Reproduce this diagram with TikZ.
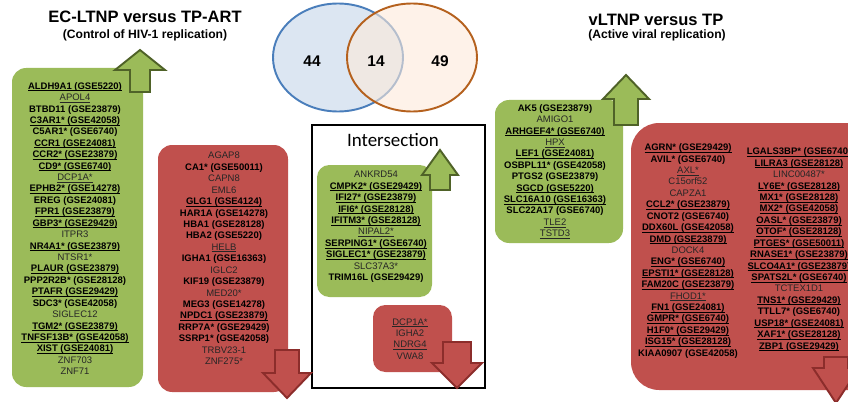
\documentclass[tikz,border=0pt]{standalone}
\usepackage{fontspec}
\setmainfont{Liberation Sans}
\newfontfamily\carlito{Carlito}

\definecolor{boxgreen}{HTML}{9BBB59}
\definecolor{boxred}{HTML}{C0504D}
\definecolor{arrowgreen}{HTML}{4F6228}
\definecolor{arrowred}{HTML}{8C2D2B}
\definecolor{vennblue}{HTML}{4A7EBB}
\definecolor{vennbluefill}{HTML}{DCE6F2}
\definecolor{vennorange}{HTML}{B5611E}
\definecolor{vennorangefill}{HTML}{FDEADA}
\definecolor{plaingray}{HTML}{262626}

% underline at a fixed depth
\newcommand\ulbox[1]{\setbox0\hbox{#1}\rlap{\rule[-1.1pt]{\wd0}{0.45pt}}\box0}
% gene entries: bold+underlined, bold, plain+underlined, plain
\newcommand\bul[1]{\textbf{\ulbox{#1}}}
\newcommand\bld[1]{\textbf{#1}}
\newcommand\pul[1]{\textcolor{plaingray}{\ulbox{#1}}}
\newcommand\pln[1]{\textcolor{plaingray}{#1}}

% block arrow: style, x, tip y, head base y, head half width, shaft half width, shaft end y
\newcommand\blkarrow[7]{%
  \draw[#1] (#2-#6,#7) -- (#2-#6,#4) -- (#2-#5,#4) -- (#2,#3) -- (#2+#5,#4)
    -- (#2+#6,#4) -- (#2+#6,#7) -- cycle;}

\tikzset{
  greenbox/.style={fill=boxgreen, rounded corners=8pt},
  redbox/.style={fill=boxred, rounded corners=8pt},
  genelist/.style={align=center, inner sep=0pt, font=\fontsize{5.4}{6.5}\selectfont},
  uparrow/.style={fill=boxgreen, draw=arrowgreen, line width=1.1pt},
  downarrow/.style={fill=boxred, draw=arrowred, line width=1.1pt},
  heading/.style={font=\bfseries\fontsize{9.4}{11}\selectfont},
  subheading/.style={font=\bfseries\fontsize{6.9}{8}\selectfont},
  vennnum/.style={font=\bfseries\fontsize{8.8}{10}\selectfont},
}

\begin{document}
\begin{tikzpicture}[x=0.02cm,y=-0.02cm]
  \useasboundingbox (0,0) rectangle (848,402);
  \clip (0,0) rectangle (848,402);

  % titles
  \node[heading] (ectitle) at (145,17) {EC-LTNP versus TP-ART};
  \node[subheading] (ecsub) at (145,35) {(Control of HIV-1 replication)};
  \node[heading] (vltitle) at (656,20) {vLTNP versus TP};
  \node[subheading] (vlsub) at (657,35) {(Active viral replication)};

  % venn diagram
  \filldraw[fill=vennbluefill, draw=vennblue, line width=1.1pt] (338,57.5) ellipse [x radius=65, y radius=54];
  \filldraw[fill=vennorangefill, fill opacity=0.6, draw=vennorange, line width=1.1pt] (412,57.5) ellipse [x radius=65, y radius=54];
  \node[vennnum] (nleft) at (312,61) {44};
  \node[vennnum] (nboth) at (376,61) {14};
  \node[vennnum] (nright) at (440,61) {49};

  % EC-LTNP versus TP-ART, up
  \fill[greenbox] (12,68) rectangle (143,387);
  \node[genelist] (ecup) at (75,228.5) {\bul{ALDH9A1 (GSE5220)}\\ \pul{APOL4}\\ \bld{BTBD11 (GSE23879)}\\
    \bul{C3AR1* (GSE42058)}\\ \bld{C5AR1* (GSE6740)}\\ \bul{CCR1 (GSE24081)}\\ \bul{CCR2* (GSE23879)}\\
    \bul{CD9* (GSE6740)}\\ \pul{DCP1A*}\\ \bul{EPHB2* (GSE14278)}\\ \bld{EREG (GSE24081)}\\
    \bul{FPR1 (GSE23879)}\\ \bul{GBP3* (GSE29429)}\\ \pln{ITPR3}\\ \bul{NR4A1* (GSE23879)}\\
    \pln{NTSR1*}\\ \bul{PLAUR (GSE23879)}\\ \bld{PPP2R2B* (GSE28128)}\\ \bul{PTAFR (GSE29429)}\\
    \bld{SDC3* (GSE42058)}\\ \pln{SIGLEC12}\\ \bul{TGM2* (GSE23879)}\\ \bul{TNFSF13B* (GSE42058)}\\
    \bul{XIST (GSE24081)}\\ \pln{ZNF703}\\ \pln{ZNF71}};

  % EC-LTNP versus TP-ART, down
  \fill[redbox] (158,145) rectangle (288,392);
  \node[genelist] (ecdown) at (224,258.5) {\pln{AGAP8}\\ \bld{CA1* (GSE50011)}\\ \pln{CAPN8}\\ \pln{EML6}\\
    \bul{GLG1 (GSE4124)}\\ \bld{HAR1A (GSE14278)}\\ \bld{HBA1 (GSE28128)}\\ \bld{HBA2 (GSE5220)}\\
    \pul{HELB}\\ \bld{IGHA1 (GSE16363)}\\ \pln{IGLC2}\\ \bld{KIF19 (GSE23879)}\\ \pln{MED20*}\\
    \bld{MEG3 (GSE14278)}\\ \bul{NPDC1 (GSE23879)}\\ \bld{RRP7A* (GSE29429)}\\ \bld{SSRP1* (GSE42058)}\\
    \pln{TRBV23-1}\\ \pln{ZNF275*}};

  % intersection
  \draw[line width=1.1pt] (312,125) rectangle (485,388);
  \node[font=\carlito\fontsize{10.8}{12}\selectfont] (inttitle) at (393,140) {Intersection};
  \fill[greenbox, rounded corners=7pt] (317,165) rectangle (432,297);
  \node[genelist] (intup) at (376,227) {\pln{ANKRD54}\\ \bul{CMPK2* (GSE29429)}\\ \bul{IFI27* (GSE23879)}\\
    \bul{IFI6* (GSE28128)}\\ \bul{IFITM3* (GSE28128)}\\ \pul{NIPAL2*}\\ \bul{SERPING1* (GSE6740)}\\
    \bul{SIGLEC1* (GSE23879)}\\ \pln{SLC37A3*}\\ \bld{TRIM16L (GSE29429)}};
  \fill[redbox, rounded corners=7pt] (373,305) rectangle (452,372);
  \node[genelist] (intdown) at (410,339) {\pul{DCP1A*}\\ \pln{IGHA2}\\ \pul{NDRG4}\\ \pln{VWA8}};

  % vLTNP versus TP, up
  \fill[greenbox] (495,100) rectangle (623,243);
  \node[genelist] (vlup) at (555,171.5) {\bld{AK5 (GSE23879)}\\ \pln{AMIGO1}\\ \bul{ARHGEF4* (GSE6740)}\\
    \pul{HPX}\\ \bul{LEF1 (GSE24081)}\\ \bld{OSBPL11* (GSE42058)}\\ \bld{PTGS2 (GSE23879)}\\
    \bul{SGCD (GSE5220)}\\ \bul{SLC16A10 (GSE16363)}\\ \bld{SLC22A17 (GSE6740)}\\ \pul{TLE2}\\ \pul{TSTD3}};

  % vLTNP versus TP, down
  \fill[redbox, rounded corners=16pt] (631,123) rectangle (900,390);
  \node[genelist] (vldowna) at (688,251) {\bul{AGRN* (GSE29429)}\\ \bld{AVIL* (GSE6740)}\\ \pul{AXL*}\\
    \pln{C15orf52}\\ \pln{CAPZA1}\\ \bul{CCL2* (GSE23879)}\\ \bld{CNOT2 (GSE6740)}\\ \bul{DDX60L (GSE42058)}\\
    \bul{DMD (GSE23879)}\\ \pln{DOCK4}\\ \bul{ENG* (GSE6740)}\\ \bul{EPSTI1* (GSE28128)}\\
    \bul{FAM20C (GSE23879)}\\ \pul{FHOD1*}\\ \bul{FN1 (GSE24081)}\\ \bul{GMPR* (GSE6740)}\\
    \bul{H1F0* (GSE29429)}\\ \bul{ISG15* (GSE28128)}\\ \bld{KIAA0907 (GSE42058)}};
  \node[genelist] (vldownb) at (799,249.5) {\bul{LGALS3BP* (GSE6740)}\\ \bul{LILRA3 (GSE28128)}\\ \pln{LINC00487*}\\
    \bul{LY6E* (GSE28128)}\\ \bul{MX1* (GSE28128)}\\ \bul{MX2* (GSE42058)}\\ \bul{OASL* (GSE23879)}\\
    \bul{OTOF* (GSE28128)}\\ \bul{PTGES* (GSE50011)}\\ \bul{RNASE1* (GSE23879)}\\ \bul{SLCO4A1* (GSE23879)}\\
    \bul{SPATS2L* (GSE6740)}\\ \pln{TCTEX1D1}\\ \bul{TNS1* (GSE29429)}\\ \bld{TTLL7* (GSE6740)}\\
    \bul{USP18* (GSE24081)}\\ \bul{XAF1* (GSE28128)}\\ \bul{ZBP1 (GSE29429)}};

  % arrows
  \blkarrow{uparrow}{140}{50}{70}{25}{10}{92}
  \blkarrow{uparrow}{440}{150}{175}{18}{10}{190}
  \blkarrow{uparrow}{626}{75}{99}{23}{12}{125}
  \blkarrow{downarrow}{287}{398}{373}{24}{12}{350}
  \blkarrow{downarrow}{457}{388}{363}{25}{14}{342}
  \blkarrow{downarrow}{836}{403}{368}{23}{12}{357}
\end{tikzpicture}
\end{document}
